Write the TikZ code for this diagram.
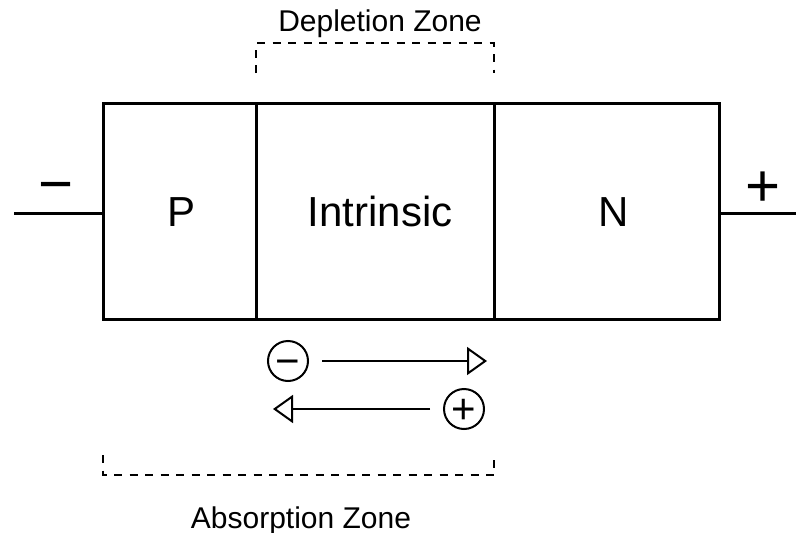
\documentclass[tikz,border=0pt]{standalone}
\usepackage{fontspec}
\setmainfont{Liberation Sans}
\usetikzlibrary{arrows.meta}

\tikzset{
  region/.style={draw, line width=3pt, minimum height=215.5pt, inner sep=0pt},
  tag/.style={anchor=base, inner sep=0pt, font=\fontsize{42}{50}\selectfont},
  zonetag/.style={anchor=base, inner sep=0pt, font=\fontsize{30}{36}\selectfont},
  zonebox/.style={line width=1.2pt, dash pattern=on 8pt off 7.5pt},
  lead/.style={line width=3pt},
  sign/.style={inner sep=0pt, text height=42pt, text depth=0pt, font=\fontsize{60}{60}\selectfont},
  charge/.style={circle, draw, line width=2pt, minimum size=40pt, inner sep=0pt,
    text height=29.4pt, text depth=0pt, font=\fontsize{42}{42}\selectfont},
  drift/.style={line width=2pt, shorten <=13pt, -{Triangle[open, length=20pt, width=28pt]}}
}

\begin{document}
\begin{tikzpicture}[x=1pt, y=-1pt]
	\useasboundingbox (0,0) rectangle (796,533);

	% the three layers of the diode
	\node[region, minimum width=152.5pt] (pside) at (179.75,211.25) {};
	\node[region, minimum width=238pt] (intr) at (375,211.25) {};
	\node[region, minimum width=225.5pt] (nside) at (606.75,211.25) {};

	\node[tag] (ptag) at (182,226) {P};
	\node[tag] (itag) at (380,226) {Intrinsic};
	\node[tag] (ntag) at (614,226) {N};

	% leads and polarity
	\coordinate (lneg) at (14,213);
	\coordinate (lpos) at (796,213);
	\draw[lead] (lneg) -- (lneg -| pside.west);
	\draw[lead] (nside.east |- lpos) -- (lpos);
	\node[sign] (neg) at (56,183) {−};
	\node[sign] (pos) at (763,185) {+};

	% depletion zone bracket
	\draw[zonebox] (256,73) -- (256,43) -- (494,43) -- (494,73);
	\node[zonetag] (deplabel) at (380,31) {Depletion Zone};

	% carriers drifting across the junction
	\node[charge] (elec) at (288,361) {−};
	\node[charge] (hole) at (464,409) {+};
	\coordinate (etip) at (487,361);
	\coordinate (htip) at (273,409);
	\draw[drift] (elec) -- (etip);
	\draw[drift] (hole) -- (htip);

	% absorption zone bracket
	\draw[zonebox] (103,455) -- (103,475) -- (494,475) -- (494,455);
	\node[zonetag] (abslabel) at (301,528) {Absorption Zone};
\end{tikzpicture}
\end{document}
